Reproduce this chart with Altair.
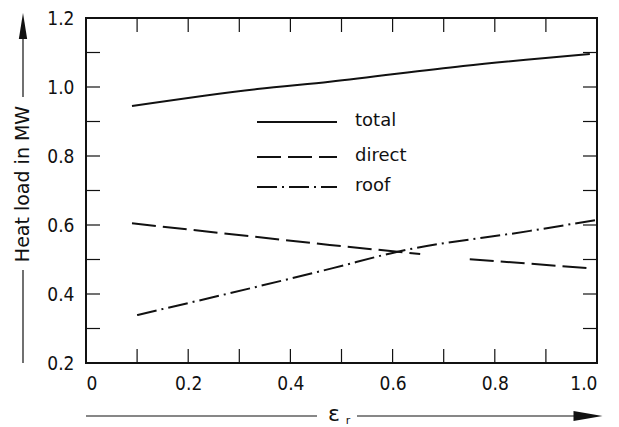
import altair as alt
import pandas as pd

# ---- data ----
total_x = [0.09, 0.335, 0.477, 0.738, 0.986]
total_y = [0.945, 0.994, 1.015, 1.061, 1.096]

direct_x = [0.09, 0.477, 0.654, 0.751, 0.982]
direct_y = [0.605, 0.542, 0.516, 0.501, 0.475]
direct_seg = ["a", "a", "a", "b", "b"]

roof_x = [0.10, 0.483, 0.608, 0.869, 0.996]
roof_y = [0.339, 0.475, 0.522, 0.583, 0.614]

x_label_values = [0, 0.2, 0.4, 0.6, 0.8, 1.0]
y_label_values = [0.2, 0.4, 0.6, 0.8, 1.0, 1.2]
x_minor = [0.1, 0.2, 0.3, 0.4, 0.5, 0.6, 0.7, 0.8, 0.9]
y_minor = [0.3, 0.4, 0.5, 0.6, 0.7, 0.8, 0.9, 1.0, 1.1]

legend_names = ["total", "direct", "roof"]
y_title = "Heat load in MW"
x_title_main = "ε"
x_title_sub = "r"

W, H = 511, 345
FONT = "DejaVu Sans"
TICKFONT = "DejaVu Sans Condensed"
BLACK = "#111111"

xs = alt.Scale(domain=[0, 1], nice=False, zero=False)
ys = alt.Scale(domain=[0.2, 1.2], nice=False, zero=False)

total_df = pd.DataFrame({"x": total_x, "y": total_y})
direct_df = pd.DataFrame({"x": direct_x, "y": direct_y, "seg": direct_seg})
roof_df = pd.DataFrame({"x": roof_x, "y": roof_y})
xm_df = pd.DataFrame({"x": x_minor})
ym_df = pd.DataFrame({"y": y_minor})

x_axis = alt.Axis(values=x_label_values, title=None, grid=False, ticks=False, domain=False,
                  labelExpr="datum.value == 0 ? '0' : format(datum.value, '.1f')",
                  labelFont=TICKFONT, labelFontSize=19, labelColor=BLACK, labelPadding=11)
y_axis = alt.Axis(values=y_label_values, title=None, grid=False, ticks=False, domain=False,
                  format=".1f", labelFont=TICKFONT, labelFontSize=19, labelColor=BLACK,
                  labelPadding=12)

total = alt.Chart(total_df).mark_line(color=BLACK, strokeWidth=2, interpolate="monotone").encode(
    x=alt.X("x:Q", scale=xs, axis=x_axis),
    y=alt.Y("y:Q", scale=ys, axis=y_axis),
)
direct = alt.Chart(direct_df).mark_line(color=BLACK, strokeWidth=2, strokeDash=[24, 7]).encode(
    x=alt.X("x:Q", scale=xs), y=alt.Y("y:Q", scale=ys), detail="seg:N"
)
roof = alt.Chart(roof_df).mark_line(color=BLACK, strokeWidth=2, strokeDash=[20, 5, 2, 5],
                                    interpolate="monotone").encode(
    x=alt.X("x:Q", scale=xs), y=alt.Y("y:Q", scale=ys)
)

# inward ticks on all four sides
tb = alt.Chart(xm_df).mark_rule(color=BLACK, strokeWidth=1.2).encode(
    x=alt.X("x:Q", scale=xs), y=alt.value(H), y2=alt.value(H - 14))
tt = alt.Chart(xm_df).mark_rule(color=BLACK, strokeWidth=1.2).encode(
    x=alt.X("x:Q", scale=xs), y=alt.value(0), y2=alt.value(14))
tl = alt.Chart(ym_df).mark_rule(color=BLACK, strokeWidth=1.2).encode(
    y=alt.Y("y:Q", scale=ys), x=alt.value(0), x2=alt.value(14))
tr = alt.Chart(ym_df).mark_rule(color=BLACK, strokeWidth=1.2).encode(
    y=alt.Y("y:Q", scale=ys), x=alt.value(W - 14), x2=alt.value(W))

# in-plot key
dashes = [None, [24, 7], [20, 5, 2, 5]]
key_y = [104, 139, 169]
key_layers = []
for name, dash, ky in zip(legend_names, dashes, key_y):
    kw = dict(color=BLACK, strokeWidth=2)
    if dash:
        kw["strokeDash"] = dash
    key_layers.append(alt.Chart(pd.DataFrame({"n": [name]})).mark_rule(**kw).encode(
        x=alt.value(171), x2=alt.value(251), y=alt.value(ky)))
    key_layers.append(alt.Chart(pd.DataFrame({"n": [name]})).mark_text(
        align="left", baseline="middle", font=FONT, fontSize=18, color=BLACK).encode(
        text="n:N", x=alt.value(269), y=alt.value(ky - 1)))

# y-axis title with arrow
one = pd.DataFrame({"t": [y_title]})
ytxt = alt.Chart(one).mark_text(angle=270, baseline="middle", align="center", font=FONT,
                                fontSize=19, color=BLACK).encode(
    text="t:N", x=alt.value(-63), y=alt.value(166))
yl1 = alt.Chart(one).mark_rule(color=BLACK, strokeWidth=1.2).encode(
    x=alt.value(-63), y=alt.value(19), y2=alt.value(79))
yl2 = alt.Chart(one).mark_rule(color=BLACK, strokeWidth=1.2).encode(
    x=alt.value(-63), y=alt.value(252), y2=alt.value(H))
yarrow = alt.Chart(one).mark_point(shape="M0,-1L0.32,1L-0.32,1Z", filled=True, opacity=1,
                                   color=BLACK, size=676).encode(
    x=alt.value(-63), y=alt.value(8))

# x-axis title with arrow
two = pd.DataFrame({"t": [x_title_main], "s": [x_title_sub]})
xl1 = alt.Chart(two).mark_rule(color=BLACK, strokeWidth=1.2).encode(
    y=alt.value(398), x=alt.value(0), x2=alt.value(231))
xl2 = alt.Chart(two).mark_rule(color=BLACK, strokeWidth=1.2).encode(
    y=alt.value(398), x=alt.value(271), x2=alt.value(490))
xarrow = alt.Chart(two).mark_point(shape="M1,0L-1,-0.35L-1,0.35Z", filled=True, opacity=1,
                                   color=BLACK, size=841).encode(
    x=alt.value(502), y=alt.value(398))
xtxt = alt.Chart(two).mark_text(baseline="middle", align="center", font=FONT, fontSize=22,
                                color=BLACK).encode(text="t:N", x=alt.value(248), y=alt.value(396))
xsub = alt.Chart(two).mark_text(baseline="middle", align="center", font=FONT, fontSize=11,
                                color=BLACK).encode(text="s:N", x=alt.value(262), y=alt.value(403))

chart = alt.layer(
    total, direct, roof, tb, tt, tl, tr, *key_layers,
    ytxt, yl1, yl2, yarrow, xl1, xl2, xarrow, xtxt, xsub
).properties(
    width=W, height=H,
    autosize=alt.AutoSizeParams(type="none"),
    padding={"left": 78, "top": 10, "right": 14, "bottom": 70},
    background="white",
).configure_view(stroke=BLACK, strokeWidth=2)

chart.save("out.html", embed_options={"renderer": "svg", "actions": False})
